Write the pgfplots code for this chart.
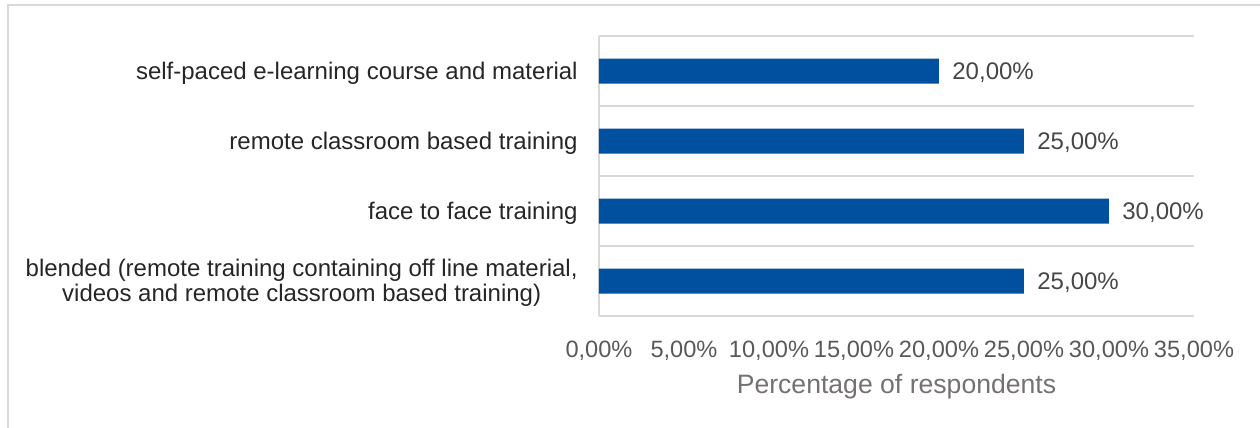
\documentclass[border=0pt]{standalone}
\usepackage{pgfplots}
\pgfplotsset{compat=1.18}
\usepackage{fontspec}
\setmainfont{Liberation Sans}
\definecolor{barblue}{RGB}{0,80,160}
\definecolor{gridgray}{RGB}{217,217,217}
\definecolor{ticktext}{RGB}{89,89,89}
\definecolor{titletext}{RGB}{118,113,113}
\definecolor{cattext}{RGB}{38,38,38}
\definecolor{valtext}{RGB}{70,70,70}
\begin{document}
\begin{tikzpicture}
\path[use as bounding box] (0pt,0pt) rectangle (630pt,214pt);
\draw[gridgray, line width=1pt] (4pt,0pt) -- (4pt,211.25pt) -- (630pt,211.25pt);
\begin{axis}[
  at={(299.5pt,56pt)}, anchor=south west,
  scale only axis, width=297.5pt, height=140pt,
  xbar, bar width=12.5pt,
  xmin=0, xmax=35, ymin=-0.5, ymax=3.5, y dir=reverse,
  axis line style={draw=none},
  xtick={0,5,10,15,20,25,30,35},
  xticklabels={{0,00\%},{5,00\%},{10,00\%},{15,00\%},{20,00\%},{25,00\%},{30,00\%},{35,00\%}},
  ytick={0,1,2,3},
  yticklabels={{self-paced e-learning course and material},{remote classroom based training},{face to face training},{blended (remote training containing off line material,\\videos and remote classroom based training)}},
  minor ytick={-0.5,0.5,1.5,2.5,3.5},
  yminorgrids, minor grid style={gridgray, line width=1pt},
  extra x ticks={0}, extra x tick labels={},
  extra x tick style={grid=major, major grid style={gridgray, line width=1pt}},
  major tick length=0pt, minor tick length=0pt,
  xticklabel style={font=\fontsize{11.8}{13}\selectfont, text=ticktext, anchor=base, inner sep=0pt, yshift=-20.5pt},
  yticklabel style={font=\fontsize{12}{12.5}\selectfont, text=cattext, align=center, inner sep=0pt, xshift=-10.5pt, yshift=-1pt},
  xlabel={Percentage of respondents},
  xlabel style={at={(axis description cs:0.5,0)}, anchor=base, inner sep=0pt, yshift=-38.5pt, font=\fontsize{13.3}{15}\selectfont, text=titletext},
  point meta=x,
  nodes near coords={\pgfmathprintnumber[fixed,fixed zerofill,precision=2,use comma,assume math mode=true]{\pgfplotspointmeta}\%},
  nodes near coords style={anchor=base west, inner sep=0pt, xshift=6.5pt, yshift=-4.4pt, font=\fontsize{12}{13}\selectfont, text=valtext},
]
\addplot[fill=barblue, draw=none] coordinates {(20,0) (25,1) (30,2) (25,3)};
\end{axis}
\end{tikzpicture}
\end{document}
